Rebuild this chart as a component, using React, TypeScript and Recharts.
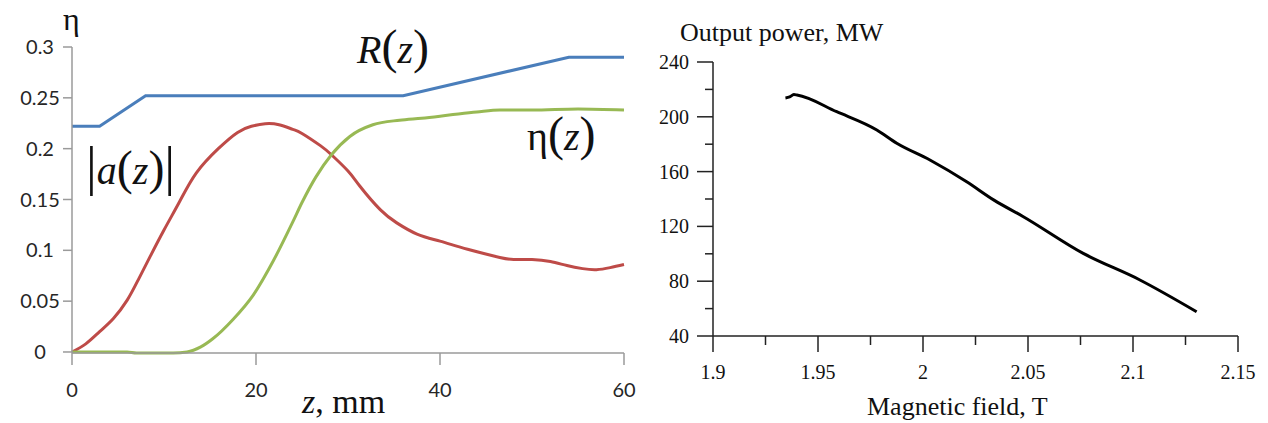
import { Line, LineChart, XAxis, YAxis } from "recharts"

// left panel: R(z), |a(z)|, eta(z) versus z, mm
const zR = [0, 3, 8, 36, 54, 60]
const rValues = [0.222, 0.222, 0.252, 0.252, 0.29, 0.29]

const zA = [0, 1.5, 3, 4.5, 6, 7.2, 8.5, 10, 11.7, 13.5, 15.9, 18, 19.5, 21, 22.5, 24, 25, 27, 28.2, 30, 31.3, 33.5, 35.3, 37.5, 40, 43, 46.5, 48, 50, 52, 53.8, 55.5, 57, 58.5, 60]
const aValues = [0, 0.008, 0.02, 0.033, 0.051, 0.071, 0.094, 0.12, 0.148, 0.176, 0.2, 0.216, 0.222, 0.2245, 0.2235, 0.219, 0.215, 0.203, 0.194, 0.178, 0.163, 0.14, 0.127, 0.116, 0.109, 0.101, 0.093, 0.091, 0.091, 0.089, 0.085, 0.082, 0.081, 0.083, 0.086]

const zEta = [0, 6, 7, 11, 12.5, 14, 15.3, 17.5, 19.7, 21.9, 24, 25, 26.5, 28.2, 30.2, 32.7, 35.6, 38, 41, 44, 46.5, 50, 55, 60]
const etaValues = [0, 0, -0.001, -0.001, 0, 0.005, 0.013, 0.032, 0.056, 0.09, 0.128, 0.147, 0.172, 0.194, 0.212, 0.2235, 0.228, 0.23, 0.233, 0.236, 0.238, 0.238, 0.239, 0.238]

const zTicks = [0, 20, 40, 60]
const etaTicks = [0, 0.05, 0.1, 0.15, 0.2, 0.25, 0.3]

// right panel: output power versus magnetic field
const field = [1.9345, 1.9365, 1.9385, 1.94, 1.9589, 1.978, 1.9875, 2.0033, 2.0208, 2.034, 2.0478, 2.0763, 2.1033, 2.1303]
const power = [213.8, 214.5, 216.2, 215.9, 203.7, 190.4, 180.7, 168.5, 152.6, 139, 127.1, 100.3, 80.9, 57.7]

const fieldMajor = [1.9, 1.95, 2, 2.05, 2.1, 2.15]
const fieldTicks = [1.9, 1.925, 1.95, 1.975, 2, 2.025, 2.05, 2.075, 2.1, 2.125, 2.15]
const powerMajor = [40, 80, 120, 160, 200, 240]
const powerTicks = [40, 60, 80, 100, 120, 140, 160, 180, 200, 220, 240]

const pairs = (xs: number[], ys: number[]) => xs.map((x, i) => ({ x, y: ys[i] }))

const serif = "'Liberation Serif', 'Times New Roman', serif"
const isMajor = (list: number[], v: number) => list.some((m) => Math.abs(m - v) < 1e-6)

function FieldTick(props: any) {
  const { x, y, payload } = props
  const major = isMajor(fieldMajor, payload.value)
  return (
    <g>
      <line x1={x} x2={x} y1={y} y2={y + (major ? 16 : 9)} stroke="#222" strokeWidth={1.5} />
      {major && (
        <text x={x} y={y + 43} textAnchor="middle" fontFamily={serif} fontSize={20} fill="#111">
          {String(payload.value)}
        </text>
      )}
    </g>
  )
}

function PowerTick(props: any) {
  const { x, y, payload } = props
  const major = isMajor(powerMajor, payload.value)
  return (
    <g>
      <line x1={x - (major ? 16 : 8)} x2={x} y1={y} y2={y} stroke="#222" strokeWidth={1.5} />
      {major && (
        <text x={x - 24} y={y + 7} textAnchor="end" fontFamily={serif} fontSize={20} fill="#111">
          {String(payload.value)}
        </text>
      )}
    </g>
  )
}

const tickFont = { fill: "#262626", fontSize: 20, fontFamily: "Lato, 'Open Sans', sans-serif" }

export default function App() {
  return (
    <div style={{ position: "absolute", left: 0, top: 0, width: 1268, height: 423, background: "#fff" }}>
      <div style={{ position: "absolute", left: 0, top: 0 }}>
        <LineChart width={640} height={423} margin={{ top: 47, right: 16, left: 12, bottom: 30 }}>
          <XAxis
            dataKey="x"
            type="number"
            domain={[0, 60]}
            ticks={zTicks}
            interval={0}
            stroke="#9a9a9a"
            strokeWidth={1.5}
            tickSize={12}
            tickMargin={18}
            height={40}
            tick={tickFont}
          />
          <YAxis
            type="number"
            domain={[0, 0.3]}
            ticks={etaTicks}
            interval={0}
            stroke="#9a9a9a"
            strokeWidth={1.5}
            tickSize={9}
            tickMargin={23}
            width={60}
            tick={{ ...tickFont, textAnchor: "middle" }}
          />
          <Line data={pairs(zR, rValues)} dataKey="y" type="linear" stroke="#4a7ebb" strokeWidth={3} dot={false} isAnimationActive={false} />
          <Line data={pairs(zA, aValues)} dataKey="y" type="natural" stroke="#be4b48" strokeWidth={3} dot={false} isAnimationActive={false} />
          <Line data={pairs(zEta, etaValues)} dataKey="y" type="monotone" stroke="#98b954" strokeWidth={3} dot={false} isAnimationActive={false} />
        </LineChart>
      </div>
      <div style={{ position: "absolute", left: 640, top: 0 }}>
        <LineChart width={628} height={423} margin={{ top: 62, right: 30, left: 13, bottom: 37 }}>
          <XAxis
            dataKey="x"
            type="number"
            domain={[1.9, 2.15]}
            ticks={fieldTicks}
            interval={0}
            stroke="#222"
            strokeWidth={1.5}
            tickLine={false}
            tickSize={0}
            tickMargin={0}
            height={50}
            tick={<FieldTick />}
          />
          <YAxis
            type="number"
            domain={[40, 240]}
            ticks={powerTicks}
            interval={0}
            stroke="#222"
            strokeWidth={1.5}
            tickLine={false}
            tickSize={0}
            tickMargin={0}
            width={60}
            tick={<PowerTick />}
          />
          <Line data={pairs(field, power)} dataKey="y" type="monotone" stroke="#000" strokeWidth={3} dot={false} isAnimationActive={false} />
        </LineChart>
      </div>
      <svg width={1268} height={423} style={{ position: "absolute", left: 0, top: 0, pointerEvents: "none" }}>
        <text x={63} y={30} fontFamily={serif} fontSize={32} fill="#111">η</text>
        <text x={357} y={63} fontFamily={serif} fontSize={40} fill="#111">
          <tspan fontStyle="italic">R</tspan>
          <tspan fontSize={48}>(</tspan>
          <tspan fontStyle="italic">z</tspan>
          <tspan fontSize={48}>)</tspan>
        </text>
        <text x={527} y={150} fontFamily={serif} fontSize={40} fill="#111">
          <tspan>η</tspan>
          <tspan fontSize={48}>(</tspan>
          <tspan fontStyle="italic">z</tspan>
          <tspan fontSize={48}>)</tspan>
        </text>
        <text x={86} y={184} fontFamily={serif} fontSize={40} fill="#111">
          <tspan fontSize={54}>|</tspan>
          <tspan fontStyle="italic">a</tspan>
          <tspan fontSize={48}>(</tspan>
          <tspan fontStyle="italic">z</tspan>
          <tspan fontSize={48}>)</tspan>
          <tspan fontSize={54}>|</tspan>
        </text>
        <text x={302} y={413} fontFamily={serif} fontSize={34} fill="#111">
          <tspan fontStyle="italic">z</tspan>
          <tspan>, mm</tspan>
        </text>
        <text x={680} y={41} fontFamily={serif} fontSize={26} fill="#111">Output power, MW</text>
        <text x={867} y={415} fontFamily={serif} fontSize={26} fill="#111">Magnetic field, T</text>
      </svg>
    </div>
  )
}
